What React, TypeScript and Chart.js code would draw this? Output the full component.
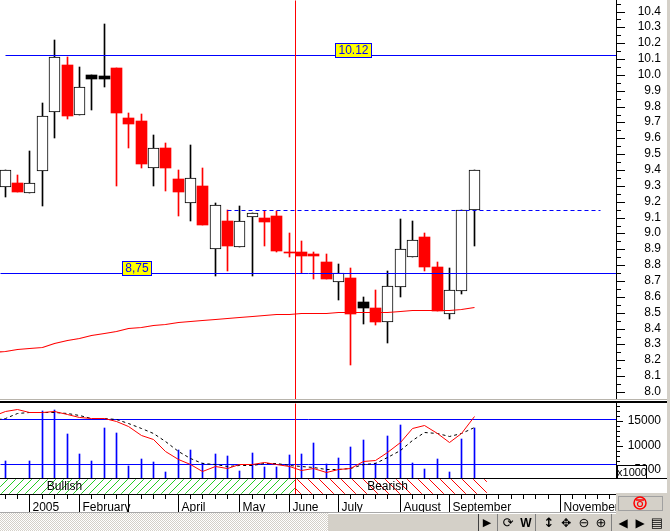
import React, { useEffect, useRef } from "react";
import { Chart, registerables, LinearScale } from "chart.js";

class SnapX extends LinearScale {
  static id = "snapX";
  static defaults = LinearScale.defaults;
  getPixelForValue(v: number) { return Math.floor(super.getPixelForValue(v)) + 0.5; }
}
class SnapInt extends LinearScale {
  static id = "snapInt";
  static defaults = LinearScale.defaults;
  getPixelForValue(v: number) { return Math.round(super.getPixelForValue(v)); }
}
class SnapHalf extends LinearScale {
  static id = "snapHalf";
  static defaults = LinearScale.defaults;
  getPixelForValue(v: number) { return Math.floor(super.getPixelForValue(v)) + 0.5; }
}
Chart.register(...registerables, SnapX, SnapInt, SnapHalf);

const FONT = '"Liberation Sans", Arial, sans-serif';
const RED = "#ff0000";
const BLUE = "#0000ff";

const opens = [9.295,9.318,9.257,9.396,9.768,10.062,9.749,10.0,9.993,10.044,9.728,9.709,9.415,9.539,9.343,9.194,9.299,8.903,9.078,8.916,9.105,9.097,9.11,8.88,8.883,8.87,8.82,8.695,8.719,8.567,8.529,8.443,8.664,8.853,8.977,8.788,8.493,8.638,9.146];
const closes = [9.40,9.261,9.316,9.739,10.116,9.741,9.922,9.974,9.974,9.76,9.69,9.438,9.537,9.413,9.261,9.348,9.053,9.177,8.92,9.076,9.127,9.072,8.889,8.874,8.857,8.857,8.712,8.748,8.491,8.529,8.441,8.666,8.9,8.956,8.788,8.51,8.641,9.146,9.398];
const highs = [9.40,9.368,9.52,9.823,10.22,10.116,10.05,10.0,10.32,10.044,9.76,9.753,9.621,9.57,9.40,9.558,9.413,9.192,9.148,9.173,9.127,9.141,9.141,9.002,8.952,8.883,8.87,8.807,8.782,8.599,8.643,8.763,9.091,9.078,9.002,8.82,8.782,9.146,9.398];
const lows = [9.232,9.261,9.257,9.173,9.602,9.722,9.749,9.779,9.924,9.299,9.539,9.413,9.299,9.268,9.11,9.078,9.053,8.731,8.763,8.916,8.731,8.92,8.883,8.851,8.75,8.712,8.712,8.58,8.17,8.428,8.422,8.309,8.599,8.853,8.763,8.51,8.46,8.618,8.92];
const blackCandles = [7, 8, 29];
const movingAverage = [8.25,8.254,8.269,8.273,8.283,8.304,8.323,8.338,8.357,8.37,8.382,8.399,8.408,8.418,8.428,8.436,8.445,8.452,8.458,8.464,8.471,8.477,8.483,8.487,8.49,8.496,8.496,8.498,8.5,8.502,8.502,8.502,8.502,8.508,8.515,8.515,8.515,8.515,8.521,8.533];
const volumes = [6900,3000,6900,17000,17200,12400,8300,6900,13600,12600,5900,7300,6700,4700,9100,9100,6500,8300,7900,4900,8500,5700,5700,8100,8300,10500,6300,7500,9700,11200,6500,12000,14200,6500,5300,7300,4700,11400,13600];
const volumeTicks = [5000, 10000, 15000];
const stochFast = [84,90.7,93.3,89.3,88.8,90.1,86.1,82.7,80.4,81.7,77.3,70.7,58.7,52.8,37.7,26.7,20,10.1,17.7,14.7,20,20,22.2,20,16.8,12,14.7,9.3,12.8,15,24,25.7,36,49.3,67.5,72,60.4,49.3,61.7,84];
const stochSlow = [78,81.7,87.5,89.3,88.4,89.3,88,84.8,81.7,81.7,79.5,75,67.5,60.4,50.7,36.8,28,20.4,20,16.8,19,19,20.4,20.4,19,16.8,15.5,12.4,12.8,14.1,19.5,21.7,28.4,38.1,52,62.7,60.8,56.8,60.4,69.7];
const stochLevels = [80, 20];
const resistance = 10.12;
const support = 8.75;
const dashedLevel = 9.146;
const dashedFrom = 18;
const dashedTo = 48.2;
const resistanceFrom = 0;
const crosshairIndex = 23.52;
const priceLabels = [
  { text: "10.12", value: 10.12, index: 28.2 },
  { text: "8,75", value: 8.75, index: 10.67 },
];
const bandEdges = [-0.43, 23.52, 39];
const bandNames = ["Bullish", "Bearish"];
const bandNameIndex = [4.82, 31];
const monthIndex = [2, 6, 10, 14, 19, 23, 27, 32, 36, 45];
const monthNames = ["2005", "February", "", "April", "May", "June", "July", "August", "September", "November"];
const allTicks = Array.from({ length: 50 }, (_, i) => i);

const xOptions = { type: "snapX", min: -0.43, max: 49.49, display: false, offset: false, grid: { display: false } };

function minorTicks(axis: string, step: number, length: number) {
  return {
    id: "minor-" + axis,
    afterDraw(chart: any) {
      const s = chart.scales[axis];
      const { ctx } = chart;
      ctx.save();
      ctx.fillStyle = "#000";
      for (let v = Math.ceil(s.min / step) * step; v <= s.max; v += step) {
        ctx.fillRect(s.left, Math.floor(s.getPixelForValue(v)), length, 1);
      }
      ctx.restore();
    },
  };
}

function yAxis(min: number, max: number, step: number, tickLength: number, digits: number, width: number, tickList?: number[]) {
  return {
    type: "snapInt", position: "right", min, max,
    afterBuildTicks: (s: any) => { if (tickList) s.ticks = tickList.map((value) => ({ value })); },
    afterFit: (s: any) => { s.width = width; s.paddingTop = 0; s.paddingBottom = 0; },
    border: { display: true, color: "#000", width: 1 },
    grid: { drawOnChartArea: false, tickLength, tickColor: "#000", tickWidth: 1 },
    ticks: {
      stepSize: step, includeBounds: false, autoSkip: false, color: "#000", padding: 1, crossAlign: "far",
      font: { family: FONT, size: 12 },
      callback: (v: number) => Number(v).toFixed(digits),
    },
  };
}

function hatch(color: string, period: number, rising: boolean) {
  const c = document.createElement("canvas");
  c.width = period; c.height = period;
  const g = c.getContext("2d")!;
  g.fillStyle = "#fff"; g.fillRect(0, 0, period, period);
  g.fillStyle = color;
  for (let i = 0; i < period; i++) g.fillRect(rising ? period - 1 - i : i, i, 1, 1);
  return g.createPattern(c, "repeat")!;
}

const pt = (values: number[], offset = 0) => values.map((y, i) => ({ x: i + offset, y }));
const noUi = { legend: { display: false }, tooltip: { enabled: false }, title: { display: false } };

function toolIcon(x: number, text: string, extra: any = {}) {
  return (
    <span key={x + text} style={{ position: "absolute", left: x - 10, width: 20, top: 514, height: 18, lineHeight: "18px", textAlign: "center", color: "#000", fontFamily: '"DejaVu Sans", sans-serif', fontSize: 13, ...extra }}>{text}</span>
  );
}

export default function App() {
  const priceRef = useRef<HTMLCanvasElement>(null);
  const lowerRef = useRef<HTMLCanvasElement>(null);
  const bandRef = useRef<HTMLCanvasElement>(null);

  useEffect(() => {
    document.body.style.margin = "0";
    const candleColor = (i: number) => blackCandles.includes(i) ? "#000" : closes[i] < opens[i] ? RED : "#000";
    const bodyFill = (i: number) => blackCandles.includes(i) ? "#000" : closes[i] < opens[i] ? RED : "#fff";
    const yMin = 7.9495, yMax = 10.4726;
    const labelPlugin = {
      id: "priceLabels",
      afterDraw(chart: any) {
        const { ctx } = chart;
        ctx.save();
        ctx.font = "12px " + FONT;
        ctx.textAlign = "center"; ctx.textBaseline = "middle";
        for (const l of priceLabels) {
          const cx = chart.scales.x.getPixelForValue(l.index);
          const ly = chart.scales.yLine.getPixelForValue(l.value);
          const w = Math.round(ctx.measureText(l.text).width) + 6;
          const left = Math.floor(cx - w / 2) + 0.5, top = Math.floor(ly) - 11.5;
          ctx.fillStyle = "#ffff00"; ctx.fillRect(left, top, w, 14);
          ctx.strokeStyle = BLUE; ctx.lineWidth = 1; ctx.strokeRect(left, top, w, 14);
          ctx.fillStyle = BLUE; ctx.fillText(l.text, left + w / 2, top + 7.5);
        }
        ctx.restore();
      },
    };
    const price = new Chart(priceRef.current!, {
      type: "bar",
      data: {
        datasets: [
          { type: "bar", order: 5, grouped: false, barThickness: 1, data: highs.map((h, i) => ({ x: i, y: [lows[i], h] })), backgroundColor: highs.map((_, i) => candleColor(i)), borderWidth: 0 },
          { type: "bar", order: 4, grouped: false, barThickness: 11, data: opens.map((o, i) => ({ x: i, y: [Math.min(o, closes[i]), Math.max(o, closes[i])] })), backgroundColor: opens.map((_, i) => bodyFill(i)), borderColor: "#000", borderWidth: opens.map((o, i) => closes[i] > o ? 1 : 0), borderSkipped: false },
          { type: "line", order: 3, yAxisID: "yLine", data: pt(movingAverage, -1), borderColor: RED, borderWidth: 1.2, pointRadius: 0, tension: 0 },
          { type: "line", order: 2, yAxisID: "yLine", data: [{ x: resistanceFrom, y: resistance }, { x: 49.49, y: resistance }], borderColor: BLUE, borderWidth: 1, pointRadius: 0 },
          { type: "line", order: 2, yAxisID: "yLine", data: [{ x: -0.43, y: support }, { x: 49.49, y: support }], borderColor: BLUE, borderWidth: 1, pointRadius: 0 },
          { type: "line", order: 2, yAxisID: "yLine", data: [{ x: dashedFrom, y: dashedLevel }, { x: dashedTo, y: dashedLevel }], borderColor: BLUE, borderWidth: 1, borderDash: [4, 3], pointRadius: 0 },
          { type: "line", order: 1, yAxisID: "yLine", data: [{ x: crosshairIndex, y: yMin }, { x: crosshairIndex, y: yMax }], borderColor: RED, borderWidth: 1, pointRadius: 0 },
        ] as any,
      },
      options: {
        responsive: false, animation: false, maintainAspectRatio: false,
        layout: { padding: 0, autoPadding: false },
        plugins: noUi,
        scales: {
          x: xOptions,
          y: yAxis(yMin, yMax, 0.1, 9, 1, 45),
          yLine: { type: "snapHalf", min: yMin, max: yMax, display: false },
        },
      } as any,
      plugins: [minorTicks("y", 0.05, 5), labelPlugin],
    });

    const xBox = {
      id: "x1000",
      afterDraw(chart: any) {
        const { ctx } = chart;
        ctx.save();
        ctx.fillStyle = "#fff"; ctx.fillRect(617.5, 62.5, 29, 13);
        ctx.strokeStyle = "#000"; ctx.lineWidth = 1; ctx.strokeRect(617.5, 62.5, 29, 13);
        ctx.fillStyle = "#000"; ctx.font = "11px " + FONT; ctx.textAlign = "center"; ctx.textBaseline = "middle";
        ctx.fillText("x1000", 632, 69.5);
        ctx.restore();
      },
    };
    const vMin = 3463, vMax = 18643;
    const lower = new Chart(lowerRef.current!, {
      type: "bar",
      data: {
        datasets: [
          { type: "bar", order: 5, grouped: false, barThickness: 1, data: pt(volumes), backgroundColor: BLUE, borderWidth: 0 },
          ...stochLevels.map((lv) => ({ type: "line", order: 4, yAxisID: "yStoch", data: [{ x: -0.43, y: lv }, { x: 49.49, y: lv }], borderColor: BLUE, borderWidth: 1, pointRadius: 0 })),
          { type: "line", order: 3, yAxisID: "yStoch", data: pt(stochSlow, -1), borderColor: "#000", borderWidth: 1, borderDash: [3, 3], pointRadius: 0 },
          { type: "line", order: 2, yAxisID: "yStoch", data: pt(stochFast, -1), borderColor: RED, borderWidth: 1, pointRadius: 0 },
          { type: "line", order: 1, yAxisID: "yStoch", data: [{ x: crosshairIndex, y: 1.73 }, { x: crosshairIndex, y: 101.7 }], borderColor: RED, borderWidth: 1, pointRadius: 0 },
        ] as any,
      },
      options: {
        responsive: false, animation: false, maintainAspectRatio: false,
        layout: { padding: 0, autoPadding: false },
        plugins: noUi,
        scales: {
          x: xOptions,
          y: yAxis(vMin, vMax, 5000, 7, 0, 45, volumeTicks),
          yStoch: { type: "snapHalf", min: 1.73, max: 101.7, display: false },
        },
      } as any,
      plugins: [minorTicks("y", 1000, 4), xBox],
    });

    const bandOverlay = {
      id: "bandOverlay",
      afterDraw(chart: any) {
        const { ctx } = chart;
        const s = chart.scales.x;
        ctx.save();
        ctx.fillStyle = "#000";
        for (const m of monthIndex) ctx.fillRect(Math.floor(s.getPixelForValue(m)), s.top, 1, 19);
        ctx.fillStyle = RED;
        ctx.fillRect(Math.floor(s.getPixelForValue(crosshairIndex)), 0, 1, s.top);
        ctx.fillStyle = "#000"; ctx.font = "12px " + FONT; ctx.textAlign = "center"; ctx.textBaseline = "middle";
        bandNames.forEach((n, i) => ctx.fillText(n, s.getPixelForValue(bandNameIndex[i]), 8));
        ctx.restore();
      },
    };
    const band = new Chart(bandRef.current!, {
      type: "bar",
      data: {
        labels: ["band"],
        datasets: [
          { grouped: false, barThickness: 14, data: [{ x: [bandEdges[0], bandEdges[1]], y: "band" }], backgroundColor: hatch("#22cc22", 8, true), borderWidth: 0 },
          { grouped: false, barThickness: 14, data: [{ x: [bandEdges[1], bandEdges[2]], y: "band" }], backgroundColor: hatch(RED, 11, false), borderWidth: 0 },
        ] as any,
      },
      options: {
        indexAxis: "y",
        responsive: false, animation: false, maintainAspectRatio: false,
        layout: { padding: 0, autoPadding: false },
        plugins: noUi,
        scales: {
          y: { type: "category", display: false, offset: true },
          x: {
            type: "snapX", position: "bottom", min: -0.43, max: 49.49, offset: false,
            afterBuildTicks: (s: any) => { s.ticks = allTicks.map((value) => ({ value })); },
            afterFit: (s: any) => { s.height = 19; },
            border: { display: true, color: "#000", width: 1 },
            grid: { drawOnChartArea: false, tickLength: 5, tickColor: "#000", tickWidth: 1 },
            ticks: {
              autoSkip: false, maxRotation: 0, minRotation: 0, align: "start", labelOffset: 3, padding: 1, color: "#000",
              font: { family: FONT, size: 12 },
              callback: (v: number) => { const k = monthIndex.indexOf(v); return k >= 0 ? monthNames[k] : ""; },
            },
          },
        },
      } as any,
      plugins: [bandOverlay],
    });
    return () => { price.destroy(); lower.destroy(); band.destroy(); };
  }, []);

  const abs = (left: number, top: number, width: number, height: number, background: string, extra: any = {}) => (
    <div style={{ position: "absolute", left, top, width, height, background, ...extra }} />
  );

  return (
    <div style={{ position: "absolute", left: 0, top: 0, width: 670, height: 531, background: "#fff", overflow: "hidden" }}>
      <canvas ref={priceRef} width={661} height={400} style={{ position: "absolute", left: 0, top: 0, display: "block" }} />
      <canvas ref={lowerRef} width={661} height={75} style={{ position: "absolute", left: 0, top: 403, display: "block" }} />
      <canvas ref={bandRef} width={616} height={34} style={{ position: "absolute", left: 0, top: 479, display: "block" }} />
      {abs(0, 399, 667, 1, "#b8b4ac")}
      {abs(0, 401, 667, 2, "#000")}
      {abs(0, 478, 667, 1, "#000")}
      {abs(667, 0, 3, 493, "#d4d0c8")}
      {abs(616, 493, 54, 38, "#d4d0c8")}
      {abs(618, 496, 45, 15, "#d4d0c8", { border: "1px solid #a0a0a0", boxSizing: "border-box" })}
      <svg width={16} height={16} style={{ position: "absolute", left: 632, top: 495 }}>
        <circle cx={8} cy={8} r={6} fill="none" stroke={RED} strokeWidth={1.5} />
        <circle cx={8} cy={9} r={2.5} fill="none" stroke={RED} strokeWidth={1.2} />
        <line x1={4} y1={5} x2={12} y2={5} stroke={RED} strokeWidth={1.5} />
      </svg>
      {abs(0, 512, 616, 1, "#a8a8a8")}
      {abs(0, 513, 328, 18, "repeating-conic-gradient(#d4d0c8 0 25%, #fff 0 50%) 0 0/2px 2px")}
      {abs(328, 513, 288, 18, "#d4d0c8", { borderTop: "1px solid #fff", boxSizing: "border-box" })}
      {abs(478, 514, 1, 17, "#404040")}
      {abs(497, 514, 1, 17, "#808080")}
      {abs(535, 514, 1, 17, "#808080")}
      {abs(611, 514, 1, 17, "#808080")}
      {toolIcon(487, "▶", { fontSize: 11 })}
      {toolIcon(508, "⟳")}
      {toolIcon(526, "W", { fontFamily: FONT, fontWeight: 700, fontSize: 12 })}
      {toolIcon(549, "↕", { fontWeight: 700 })}
      {toolIcon(566, "✥", { fontSize: 12 })}
      {toolIcon(584, "⊖")}
      {toolIcon(601, "⊕")}
      {toolIcon(623, "◀", { fontSize: 12 })}
      {toolIcon(640, "▶", { fontSize: 12 })}
      {toolIcon(657, "▤")}
    </div>
  );
}
